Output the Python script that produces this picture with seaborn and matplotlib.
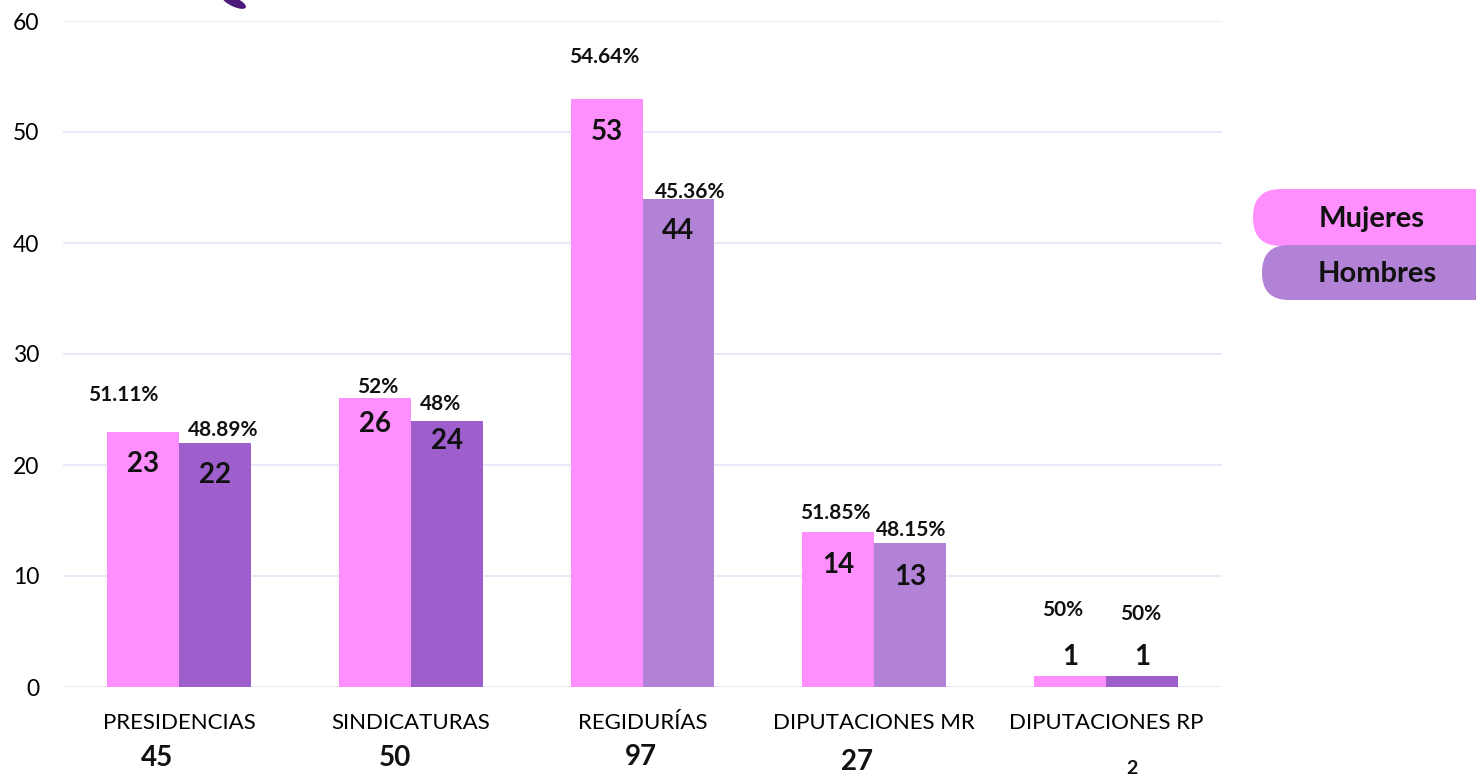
import pandas as pd
import matplotlib.pyplot as plt
import seaborn as sns
from matplotlib.patches import FancyBboxPatch, Ellipse

# Data
cargos = ["PRESIDENCIAS", "SINDICATURAS", "REGIDURÍAS", "DIPUTACIONES MR", "DIPUTACIONES RP"]
mujeres = [23, 26, 53, 14, 1]
hombres = [22, 24, 44, 13, 1]
totales = ["45", "50", "97", "27", "2"]
pct_mujeres = ["51.11%", "52%", "54.64%", "51.85%", "50%"]
pct_hombres = ["48.89%", "48%", "45.36%", "48.15%", "50%"]

# Colours
PINK = "#FF8FFF"
PURPLE_DARK = "#9E5FCD"
PURPLE_LIGHT = "#B282D6"
hombres_colors = [PURPLE_DARK, PURPLE_DARK, PURPLE_LIGHT, PURPLE_LIGHT, PURPLE_DARK]

# label placement tweaks (pixels, relative to top centre of each bar)
count_off_m = [(0, -32), (0, -26), (0, -33), (0, -33), (0, 19)]
count_off_h = [(0, -32), (0, -20), (0, -32), (0, -34), (0, 19)]
pct_off_m = [(-20, 37), (3, 11), (-2, 42), (-3, 19), (-8, 66)]
pct_off_h = [(8, 13), (-6, 17), (12, 7), (1, 13), (-1, 62)]
total_off = [(-22, -71), (-16, -71), (-2, -70), (-17, -75), (26, -81)]
total_size = [20, 20, 20, 20, 14]

df = pd.DataFrame({
    "cargo": cargos * 2,
    "n": mujeres + hombres,
    "sexo": ["Mujeres"] * len(cargos) + ["Hombres"] * len(cargos),
})

sns.set_theme(style="white")
plt.rcParams["font.family"] = ["Lato", "DejaVu Sans"]

fig = plt.figure(figsize=(14.76, 7.77), dpi=100)
ax = fig.add_axes([63 / 1476, 1 - 687 / 777, (1222 - 63) / 1476, (687 - 21) / 777])

sns.barplot(data=df, x="cargo", y="n", hue="sexo", palette=[PINK, PURPLE_DARK],
            width=0.62, linewidth=0, saturation=1, legend=False, ax=ax)

for bar, c in zip(ax.containers[1], hombres_colors):
    bar.set_facecolor(c)

ax.set_ylim(0, 60)
ax.set_yticks(range(0, 61, 10))
ax.set_xlim(-0.5, len(cargos) - 0.5)
ax.set_xlabel("")
ax.set_ylabel("")
ax.set_axisbelow(True)
ax.yaxis.grid(True, color="#EDE2FA", linewidth=1.2)
ax.xaxis.grid(False)
sns.despine(ax=ax, left=True, bottom=True)
ax.tick_params(axis="y", length=0, pad=17, labelsize=16.5, labelcolor="black")
ax.tick_params(axis="x", length=0, pad=19, labelsize=16, labelcolor="black")

def label_bars(container, counts, pcts, c_off, p_off):
    for bar, n, p, co, po in zip(container, counts, pcts, c_off, p_off):
        xc = bar.get_x() + bar.get_width() / 2
        top = bar.get_height()
        ax.annotate(str(n), xy=(xc, top), xytext=co, textcoords="offset pixels",
                    ha="center", va="center", fontsize=20, fontweight="bold", color="#111111")
        ax.annotate(p, xy=(xc, top), xytext=po, textcoords="offset pixels",
                    ha="center", va="center", fontsize=15, fontweight="bold", color="#111111")

label_bars(ax.containers[0], mujeres, pct_mujeres, count_off_m, pct_off_m)
label_bars(ax.containers[1], hombres, pct_hombres, count_off_h, pct_off_h)

for i, (t, off, fs) in enumerate(zip(totales, total_off, total_size)):
    ax.annotate(t, xy=(i, 0), xycoords=("data", "axes fraction"), xytext=off,
                textcoords="offset pixels", ha="center", va="center",
                fontsize=fs, fontweight="bold", color="#111111", annotation_clip=False)

# overlay in pixel coordinates for the pill legend and logo fragment
over = fig.add_axes([0, 0, 1, 1])
over.set_xlim(0, 1476)
over.set_ylim(777, 0)
over.axis("off")
over.patch.set_alpha(0)

over.add_patch(FancyBboxPatch((1253, 189), 300, 57, boxstyle="round,pad=0,rounding_size=28",
                              facecolor=PINK, edgecolor="none"))
over.add_patch(FancyBboxPatch((1262, 245), 300, 55, boxstyle="round,pad=0,rounding_size=27",
                              facecolor=PURPLE_LIGHT, edgecolor="none"))
over.text(1372, 219, "Mujeres", ha="center", va="center", fontsize=21, fontweight="bold", color="#111111")
over.text(1377, 274, "Hombres", ha="center", va="center", fontsize=21, fontweight="bold", color="#111111")
over.add_patch(Ellipse((234, 2), 26, 9, angle=25, facecolor="#4B1A7A", edgecolor="none"))

fig.savefig("out.png", dpi=100)
